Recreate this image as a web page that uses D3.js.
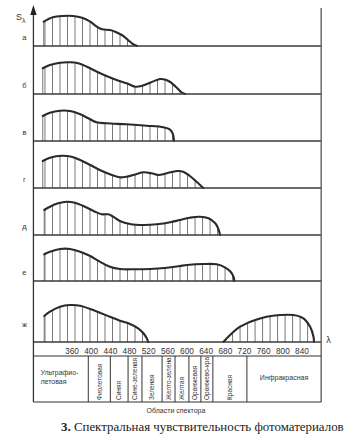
<!DOCTYPE html>
<html><head><meta charset="utf-8">
<script src="https://cdn.jsdelivr.net/npm/d3@7"></script>
<style>body{margin:0;background:#fff}svg{display:block}</style>
</head><body>
<svg id="c" width="351" height="434"></svg>
<script>
// ---------- data ----------
const panelLabels = ['а','б','в','г','д','е','ж'];
const tickLabels = [360,400,440,480,520,560,600,640,680,720,760,800,840];

const lambdaA = [301,320,341,362,381,398,412,423,439,450,464,477,487,496];
const sensA   = [24.3,28.7,30,30,28.3,24.3,19.3,16.7,16,14.3,11,6,2,0];
const lambdaB = [299,314,335,356,373,391,412,432,453,474,492,505,523,544,554,565,577,588,596];
const sensB   = [25.7,29,31.3,31.7,30.7,27.3,22.3,18,14,10.7,7.3,8,11.3,15,14.5,12,7,2,0];
const lambdaV = [299,314,335,356,376,394,411,432,474,516,551,564,570,573];
const sensV   = [25,28.3,30.3,30,27,22.7,18.7,17.7,16.7,15.3,13.7,11.7,7.7,0];
const lambdaG = [299,314,339,359,377,398,418,439,460,474,495,509,526,540,558,579,592,606,620,634];
const sensG   = [27,30.3,32.3,31.3,28,23,18,13.7,10.7,11.3,14,15.7,14.7,13,14.7,17,16.3,12,6.3,0];
const lambdaD = [302,314,331,349,366,387,408,422,436,446,460,481,509,537,565,585,606,627,645,659,665,669];
const sensD   = [25,28.3,31.7,33.3,32.3,28.3,23.3,20.7,20.7,18.3,14,11,10,10.7,12.7,15,17.3,18.3,16.7,11.7,6.7,0];
const lambdaE = [302,314,335,356,377,398,418,439,460,488,523,558,585,600,634,662,679,691,697,699];
const sensE   = [26.7,29.3,32,32,29.3,25,19.3,14.3,12,11.7,12,13.3,15,16,17,16.7,13.7,9.3,4.3,0];
const lambdaZh = [302,314,335,356,377,398,418,439,460,481,498,509,516,519];
const sensZh   = [26,30.3,35.3,37,36.3,33,29.3,25.3,21.3,18,13.7,8.7,3.7,0];
const lambdaZhIR = [676,690,711,738,766,794,822,843,857,864,865];
const sensZhIR   = [0,7,15.3,21.3,25.3,27,27,23.7,15.3,5.3,0];

const regionEdges = [279.5,394,440,477,506,548,575,604,629,654,725,880];
const regionNames = ['Ультрафиолетовая','Фиолетовая','Синяя','Сине-зеленая','Зеленая','Желто-зеленая','Желтая','Оранжевая','Оранжево-красная','Красная','Инфракрасная'];

// ---------- layout ----------
const svg = d3.select('#c');
const x = d3.scaleLinear().domain([360,840]).range([72,302]);
const axisX = x(279.5), rightX = x(880);
const baselines = [46,94,141,188,235,281,342];
const tableTop = 356, tableBottom = 402;
const ink = '#2a2a2a';
const sans = 'Liberation Sans, Arial, sans-serif';

const series = [
  [[lambdaA,sensA]],
  [[lambdaB,sensB]],
  [[lambdaV,sensV]],
  [[lambdaG,sensG]],
  [[lambdaD,sensD]],
  [[lambdaE,sensE]],
  [[lambdaZh,sensZh],[lambdaZhIR,sensZhIR]]
];

const hatchLambdas = d3.range(303.6, 880, 15.66);
const defs = svg.append('defs');

series.forEach((segs, i) => {
  const b = baselines[i];
  const y = d3.scaleLinear().domain([0,40]).range([b, b-40]);
  const g = svg.append('g');
  segs.forEach(([lam, s], j) => {
    const pts = lam.map((l,k)=>[l,s[k]]);
    const area = d3.area().x(d=>x(d[0])).y0(b).y1(d=>y(d[1])).curve(d3.curveCatmullRom.alpha(0.5));
    const line = d3.line().x(d=>x(d[0])).y(d=>y(d[1])).curve(d3.curveCatmullRom.alpha(0.5));
    const id = `clip${i}_${j}`;
    defs.append('clipPath').attr('id', id).append('path').attr('d', area(pts));
    g.append('g').attr('clip-path', `url(#${id})`)
      .selectAll('line').data(hatchLambdas).join('line')
      .attr('x1', d=>x(d)).attr('x2', d=>x(d))
      .attr('y1', b).attr('y2', b-45)
      .attr('stroke', '#555').attr('stroke-width', 0.8);
    if (s[0] > 0) {
      g.append('line').attr('x1', x(lam[0])).attr('x2', x(lam[0]))
        .attr('y1', b).attr('y2', y(s[0])).attr('stroke', '#555').attr('stroke-width', 0.8);
    }
    g.append('path').attr('d', line(pts)).attr('fill','none')
      .attr('stroke', ink).attr('stroke-width', 2.1).attr('stroke-linecap','round');
  });
  svg.append('line').attr('x1', axisX).attr('x2', rightX).attr('y1', b).attr('y2', b)
    .attr('stroke', '#3a3a3a').attr('stroke-width', 1.3);
  svg.append('text').attr('x', axisX-9).attr('y', b - (i===6 ? 15 : 6))
    .attr('text-anchor','middle').attr('font-family', sans).attr('font-size', 7.5)
    .attr('fill', '#333').text(panelLabels[i]);
});

// axes lines
svg.append('line').attr('x1', axisX).attr('x2', axisX).attr('y1', 12).attr('y2', tableBottom)
  .attr('stroke', '#333').attr('stroke-width', 1.3);
svg.append('path').attr('d', `M${axisX},5 L${axisX-3.2},15 L${axisX+3.2},15 Z`).attr('fill', '#222');
svg.append('line').attr('x1', rightX).attr('x2', rightX).attr('y1', 8).attr('y2', tableBottom)
  .attr('stroke', '#555').attr('stroke-width', 1.3);

const sl = svg.append('text').attr('x', 16).attr('y', 20).attr('font-family', sans).attr('font-size', 9).attr('fill','#333');
sl.append('tspan').text('S');
sl.append('tspan').attr('dy', 3).attr('font-size', 7).text('λ');

svg.append('text').attr('x', rightX+5).attr('y', 343).attr('font-family', sans)
  .attr('font-size', 9).attr('fill','#333').text('λ');

svg.append('g').selectAll('text').data(tickLabels).join('text')
  .attr('x', d=>x(d)).attr('y', 353.5).attr('text-anchor','middle')
  .attr('font-family', sans).attr('font-size', 8.3).attr('fill', '#333').text(d=>d);

// table
svg.append('line').attr('x1', axisX).attr('x2', rightX).attr('y1', tableTop).attr('y2', tableTop)
  .attr('stroke', '#333').attr('stroke-width', 1.2);
svg.append('line').attr('x1', axisX).attr('x2', rightX).attr('y1', tableBottom).attr('y2', tableBottom)
  .attr('stroke', '#333').attr('stroke-width', 1.2);
svg.append('g').selectAll('line').data(regionEdges.slice(1, -1)).join('line')
  .attr('x1', d=>x(d)).attr('x2', d=>x(d)).attr('y1', tableTop).attr('y2', tableBottom)
  .attr('stroke', '#333').attr('stroke-width', 1);

regionNames.forEach((name, i) => {
  const x0 = x(regionEdges[i]), x1 = x(regionEdges[i+1]);
  const cx = (x0+x1)/2;
  if (i === 0) {
    const t = svg.append('text').attr('x', x0+7).attr('y', 375).attr('font-family', sans)
      .attr('font-size', 7).attr('fill', '#333');
    t.append('tspan').attr('x', x0+7).text('Ультрафио-');
    t.append('tspan').attr('x', x0+7).attr('dy', 8.5).text('летовая');
  } else if (i === regionNames.length-1) {
    svg.append('text').attr('x', cx).attr('y', 380).attr('text-anchor','middle')
      .attr('font-family', sans).attr('font-size', 7).attr('fill','#333').text(name);
  } else {
    const id = 'cell'+i;
    defs.append('clipPath').attr('id', id).append('rect')
      .attr('x', x0).attr('y', tableTop+1).attr('width', x1-x0).attr('height', tableBottom-tableTop-1);
    svg.append('g').attr('clip-path', `url(#${id})`).append('text')
      .attr('transform', `translate(${cx+2.2},${tableBottom-2}) rotate(-90)`)
      .attr('font-family', sans).attr('font-size', 6.5).attr('fill','#333').text(name);
  }
});

svg.append('text').attr('x', 176).attr('y', 413).attr('text-anchor','middle')
  .attr('font-family', sans).attr('font-size', 7).attr('fill','#333').text('Области спектора');

const cap = svg.append('text').attr('x', 61).attr('y', 431)
  .attr('font-family', 'Liberation Serif, Times New Roman, serif').attr('font-size', 12.9).attr('fill', '#222');
cap.append('tspan').attr('font-weight','bold').text('3.');
cap.append('tspan').text(' Спектральная чувствительность фотоматериалов');
</script>
</body></html>
